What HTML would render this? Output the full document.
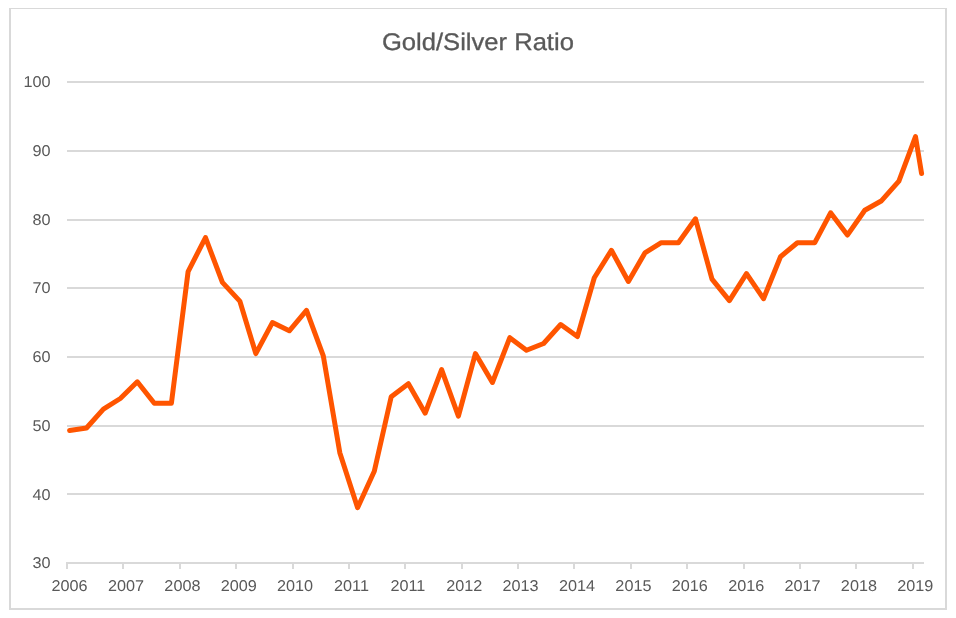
<!DOCTYPE html>
<html lang="en">
<head>
<meta charset="utf-8">
<title>Gold/Silver Ratio</title>
<style>
html,body{margin:0;padding:0;background:#fff;}
body{width:956px;height:618px;overflow:hidden;}
svg{display:block;}
text{font-family:"Liberation Sans",sans-serif;fill:#595959;}
</style>
</head>
<body>
<svg width="956" height="618" viewBox="0 0 956 618">
<rect x="0" y="0" width="956" height="618" fill="#ffffff"/>
<g fill="#d9d9d9" shape-rendering="crispEdges">
<rect x="9" y="8" width="938" height="1"/>
<rect x="9" y="8" width="2" height="602"/>
<rect x="945" y="8" width="2" height="602"/>
<rect x="9" y="608" width="938" height="2"/>
</g>
<g fill="#d9d9d9" shape-rendering="crispEdges">
<rect x="67" y="81" width="857" height="2"/>
<rect x="67" y="150" width="857" height="2"/>
<rect x="67" y="219" width="857" height="2"/>
<rect x="67" y="287" width="857" height="2"/>
<rect x="67" y="356" width="857" height="2"/>
<rect x="67" y="425" width="857" height="2"/>
<rect x="67" y="493" width="857" height="2"/>
<rect x="67" y="562" width="857" height="2"/>
<rect x="66" y="562" width="2" height="7"/>
<rect x="122" y="562" width="2" height="7"/>
<rect x="179" y="562" width="2" height="7"/>
<rect x="235" y="562" width="2" height="7"/>
<rect x="292" y="562" width="2" height="7"/>
<rect x="348" y="562" width="2" height="7"/>
<rect x="404" y="562" width="2" height="7"/>
<rect x="461" y="562" width="2" height="7"/>
<rect x="517" y="562" width="2" height="7"/>
<rect x="573" y="562" width="2" height="7"/>
<rect x="630" y="562" width="2" height="7"/>
<rect x="686" y="562" width="2" height="7"/>
<rect x="743" y="562" width="2" height="7"/>
<rect x="799" y="562" width="2" height="7"/>
<rect x="855" y="562" width="2" height="7"/>
<rect x="912" y="562" width="2" height="7"/>
</g>
<g font-size="15.6" text-rendering="geometricPrecision" text-anchor="end">
<text transform="translate(50.6,87.2) scale(1.04,1)">100</text>
<text transform="translate(50.6,155.9) scale(1.04,1)">90</text>
<text transform="translate(50.6,224.6) scale(1.04,1)">80</text>
<text transform="translate(50.6,293.3) scale(1.04,1)">70</text>
<text transform="translate(50.6,362.1) scale(1.04,1)">60</text>
<text transform="translate(50.6,430.8) scale(1.04,1)">50</text>
<text transform="translate(50.6,499.5) scale(1.04,1)">40</text>
<text transform="translate(50.6,568.2) scale(1.04,1)">30</text>
</g>
<g font-size="15.6" text-rendering="geometricPrecision" text-anchor="middle">
<text transform="translate(69.6,590.5) scale(1.04,1)">2006</text>
<text transform="translate(126.0,590.5) scale(1.04,1)">2007</text>
<text transform="translate(182.4,590.5) scale(1.04,1)">2008</text>
<text transform="translate(238.7,590.5) scale(1.04,1)">2009</text>
<text transform="translate(295.1,590.5) scale(1.04,1)">2010</text>
<text transform="translate(351.5,590.5) scale(1.04,1)">2011</text>
<text transform="translate(407.9,590.5) scale(1.04,1)">2011</text>
<text transform="translate(464.3,590.5) scale(1.04,1)">2012</text>
<text transform="translate(520.6,590.5) scale(1.04,1)">2013</text>
<text transform="translate(577.0,590.5) scale(1.04,1)">2014</text>
<text transform="translate(633.4,590.5) scale(1.04,1)">2015</text>
<text transform="translate(689.8,590.5) scale(1.04,1)">2016</text>
<text transform="translate(746.2,590.5) scale(1.04,1)">2016</text>
<text transform="translate(802.5,590.5) scale(1.04,1)">2017</text>
<text transform="translate(858.9,590.5) scale(1.04,1)">2018</text>
<text transform="translate(915.3,590.5) scale(1.04,1)">2019</text>
</g>
<text transform="translate(477.9,49.5) scale(1.066,1)" font-size="24" text-rendering="geometricPrecision" stroke="#595959" stroke-width="0.3" text-anchor="middle">Gold/Silver Ratio</text>
<polyline points="69.6,430.4 86.5,428.0 103.4,409.1 120.3,398.5 137.3,381.8 154.3,403.3 171.4,403.3 188.1,271.6 205.5,237.6 222.4,282.4 239.8,301.1 255.8,353.6 272.4,322.6 289.3,330.8 306.5,310.4 323.3,355.9 339.8,452.7 357.6,507.7 374.3,471.3 391.2,396.7 408.4,383.7 425.2,413.2 441.6,369.7 458.4,416.2 475.4,353.6 492.4,382.5 509.8,337.7 526.5,350.3 543.6,343.5 560.7,324.5 577.4,336.6 594.3,277.7 611.4,250.3 628.4,281.5 644.9,252.9 661.3,242.7 678.4,242.7 695.5,218.8 712.0,279.2 729.4,300.6 746.5,273.6 763.5,298.7 780.5,256.7 797.4,242.7 814.8,242.7 830.6,212.8 847.4,235.1 864.8,210.2 881.6,200.7 898.9,181.2 915.5,136.6 921.6,173.6" fill="none" stroke="#ff5500" stroke-width="5" stroke-linejoin="round" stroke-linecap="round"/>
</svg>
</body>
</html>
